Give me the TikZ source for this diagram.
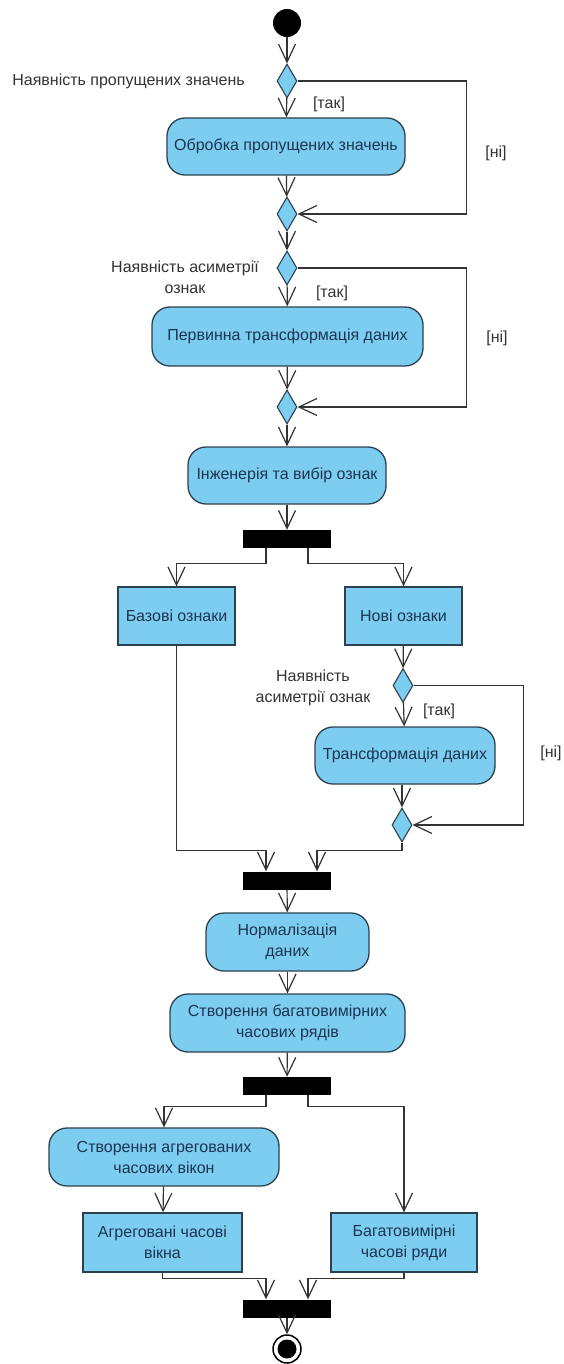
\documentclass[tikz,border=0pt]{standalone}
\usepackage{fontspec}
\setmainfont{Liberation Sans}
\usetikzlibrary{shapes.geometric,arrows.meta}
\definecolor{actfill}{HTML}{7DCDF0}
\definecolor{actdraw}{HTML}{2B4150}
\definecolor{acttext}{HTML}{1B3552}
\definecolor{wire}{HTML}{333333}

\begin{document}
\begin{tikzpicture}[x=1pt,y=-1pt,
  every node/.style={font=\fontsize{16}{21}\selectfont},
  dims/.style 2 args={minimum width=#1pt,minimum height=#2pt},
  activity/.style={draw=actdraw, fill=actfill, line width=1.3pt, rounded corners=18pt,
    text=acttext, align=center, inner sep=0pt},
  objbox/.style={draw=actdraw, fill=actfill, line width=1.3pt,
    text=acttext, align=center, inner sep=0pt},
  decision/.style={diamond, draw=actdraw, fill=actfill, line width=1.1pt,
    minimum width=20pt, minimum height=34pt, inner sep=0pt},
  bar/.style={fill=black, minimum width=88pt, minimum height=18pt, inner sep=0pt},
  flow/.style={draw=wire, line width=1.2pt, -{Straight Barb[length=18pt,width=17pt]}},
  guard/.style={text=black!80, inner sep=0pt, align=center},
]
\fill[white] (0,0) rectangle (563,1364);
\useasboundingbox (0,0) rectangle (563,1364);

% start / end
\node[circle, fill=black, minimum size=28pt, inner sep=0pt] (init) at (287,23) {};
\node[circle, draw=black, line width=1.5pt, fill=white, minimum size=28pt, inner sep=0pt] (final) at (287,1349) {};
\fill[black] (final.center) circle (9.5pt);

% decisions and merges
\node[decision] (d1) at (287,81) {};
\node[decision] (d2) at (287,214) {};
\node[decision] (d3) at (287,268) {};
\node[decision] (d4) at (287,407) {};
\node[decision] (d5) at (403,685.5) {};
\node[decision] (d6) at (402,825) {};

% fork / join bars
\node[bar] (fork1) at (287,539) {};
\node[bar] (join1) at (287,880.5) {};
\node[bar] (fork2) at (287,1086) {};
\node[bar] (join2) at (287,1308.5) {};

% actions
\node[activity, dims={238}{57}] (act1) at (286,146.5) {Обробка пропущених значень};
\node[activity, dims={271}{59}] (act2) at (287.5,336.5) {Первинна трансформація даних};
\node[activity, dims={198}{57}] (act3) at (287,475.5) {Інженерія та вибір ознак};
\node[activity, dims={180}{57}] (act4) at (405,755.5) {Трансформація даних};
\node[activity, dims={163}{58}] (act5) at (287.5,942) {Нормалізація\\даних};
\node[activity, dims={235}{58}] (act6) at (287.5,1023) {Створення багатовимірних\\часових рядів};
\node[activity, dims={230}{58}] (act7) at (164,1157) {Створення агрегованих\\часових вікон};

% object nodes
\node[objbox, dims={117}{58}] (base) at (176.5,616) {Базові ознаки};
\node[objbox, dims={117}{58}] (newf) at (403.5,616) {Нові ознаки};
\node[objbox, dims={159}{59}] (aggw) at (162.5,1242.5) {Агреговані часові\\вікна};
\node[objbox, dims={146}{59}] (mts) at (404,1242.5) {Багатовимірні\\часові ряди};

% decision texts and guards
\node[guard, anchor=east] (q1) at (245,81) {Наявність пропущених значень};
\node[guard] (q2) at (185,277) {Наявність асиметрії\\ознак};
\node[guard] (q3) at (313,687.5) {Наявність\\асиметрії ознак};
\node[guard] (y1) at (329,104) {[так]};
\node[guard] (y2) at (332,293) {[так]};
\node[guard] (y3) at (439,711) {[так]};
\node[guard] (n1) at (496,153) {[ні]};
\node[guard] (n2) at (497,338) {[ні]};
\node[guard] (n3) at (551,753) {[ні]};

% flows
\draw[flow] (init) -- (d1);
\draw[flow] (d1) -- (act1);
\draw[flow] (d1.east) -- ++(169,0) |- (d2.east);
\draw[flow] (act1) -- (d2);
\draw[flow] (d2) -- (d3);
\draw[flow] (d3) -- (act2);
\draw[flow] (d3.east) -- ++(169,0) |- (d4.east);
\draw[flow] (act2) -- (d4);
\draw[flow] (d4) -- (act3);
\draw[flow] (act3) -- (fork1);
\draw[flow] ([xshift=-21pt]fork1.south) -- ++(0,15) -| (base.north);
\draw[flow] ([xshift=21pt]fork1.south) -- ++(0,15) -| (newf.north);
\draw[flow] (newf) -- (d5);
\draw[flow] (d5) -- (act4);
\draw[flow] (d5.east) -- ++(110,0) |- (d6.east);
\draw[flow] (act4.south -| d6) -- (d6);
\draw[flow] (base.south) -- ++(0,205) -| ([xshift=-21pt]join1.north);
\draw[flow] (d6.south) -- ++(0,8) -| ([xshift=30pt]join1.north);
\draw[flow] (join1) -- (act5);
\draw[flow] (act5) -- (act6);
\draw[flow] (act6) -- (fork2);
\draw[flow] ([xshift=-21pt]fork2.south) -- ++(0,11) -| (act7.north);
\draw[flow] ([xshift=21pt]fork2.south) -- ++(0,11) -| (mts.north);
\draw[flow] (act7) -- (aggw);
\draw[flow] (aggw.south) -- ++(0,6) -| ([xshift=-21pt]join2.north);
\draw[flow] (mts.south) -- ++(0,6) -| ([xshift=21pt]join2.north);
\draw[flow] (join2) -- (final);
\end{tikzpicture}
\end{document}
